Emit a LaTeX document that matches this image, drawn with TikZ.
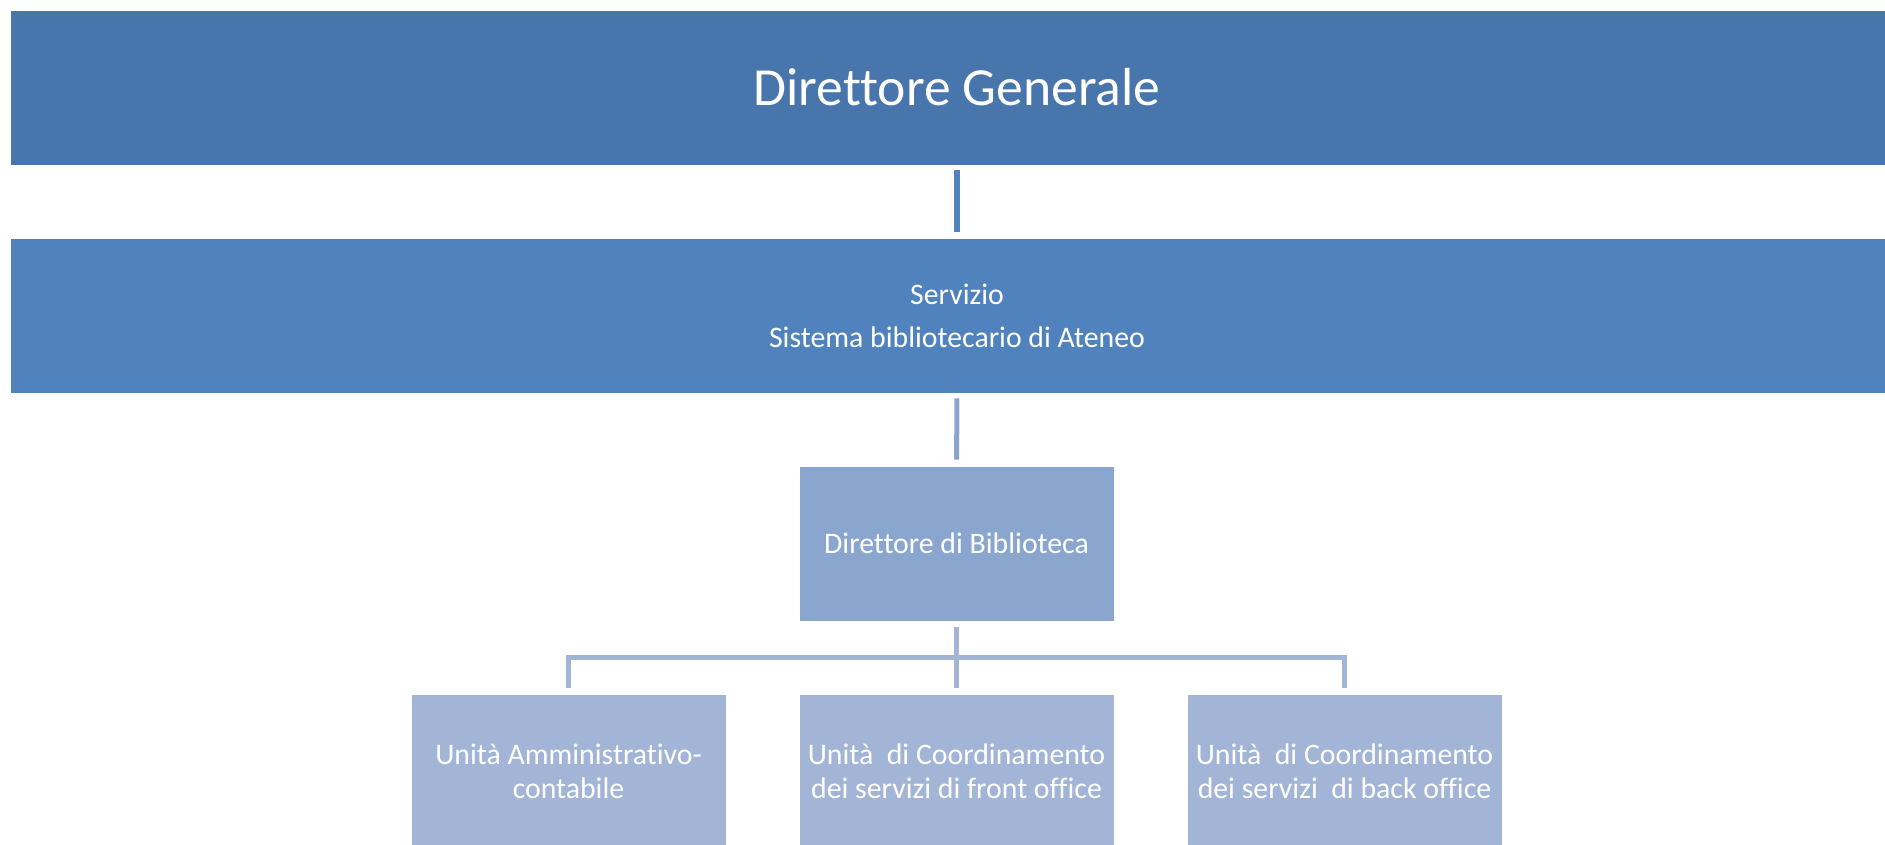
\documentclass[tikz,border=0pt]{standalone}
\usepackage{fontspec}
\setmainfont{Carlito}[Ligatures=NoCommon]
\definecolor{dgblue}{RGB}{71,117,172}
\definecolor{svblue}{RGB}{80,131,190}
\definecolor{dbblue}{RGB}{139,166,206}
\definecolor{unblue}{RGB}{163,181,214}
\begin{document}
\begin{tikzpicture}[x=1pt,y=-1pt,
  every node/.style={inner sep=0pt, text=white, align=center},
  box/.style={rectangle, draw=white, line width=0.6pt, minimum height=155pt},
  wide/.style={box, minimum width=1894pt},
  small/.style={box, minimum width=315pt},
  link/.style={line width=6pt, shorten <=5pt, shorten >=6pt}]
\useasboundingbox (0,0) rectangle (1885,844);
\clip (0,0) rectangle (1885,844);
\node [wide, fill=dgblue, font=\fontsize{53.6}{64}\selectfont] (dg) at (957,87.5) {Direttore Generale};
\node [wide, fill=svblue, font=\fontsize{29.8}{43}\selectfont] (sv) at (957,315.5) {Servizio\\Sistema bibliotecario di Ateneo};
\node [small, fill=dbblue, font=\fontsize{29.8}{35}\selectfont] (db) at (956.5,543.5) {Direttore di Biblioteca};
\node [small, fill=unblue, font=\fontsize{29.8}{33.5}\selectfont] (ua) at (568.5,771.5) {Unità Amministrativo-\\contabile};
\node [small, fill=unblue, font=\fontsize{29.8}{33.5}\selectfont] (uf) at (956.5,771.5) {Unità\ \ di Coordinamento\\dei servizi di front office};
\node [small, fill=unblue, font=\fontsize{29.8}{33.5}\selectfont] (ub) at (1344.5,771.5) {Unità\ \ di Coordinamento\\dei servizi\ \ di back office};
% connectors
\draw [link, svblue] (dg) -- (sv);
\draw [link, dbblue, line width=5pt] (sv) -- (db);
\draw [unblue, line width=5pt] ([yshift=-6pt]db.south) -- ([yshift=6pt]uf.north);
\draw [unblue, line width=5pt] ([yshift=6pt]ua.north) |- ([yshift=36.5pt]uf.north) -| ([yshift=6pt]ub.north);
\end{tikzpicture}
\end{document}
